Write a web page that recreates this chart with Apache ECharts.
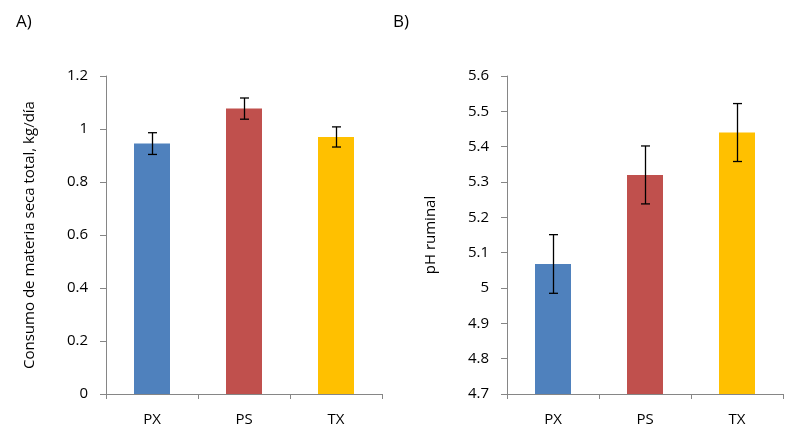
<!DOCTYPE html>
<html><head><meta charset="utf-8">
<script src="https://cdn.jsdelivr.net/npm/echarts@6/dist/echarts.min.js"></script>
<style>html,body{margin:0;padding:0;background:#fff}#c{width:800px;height:433px}</style>
</head><body><div id="c"></div>
<script>
const categories = ['PX', 'PS', 'TX'];
const colors = ['#4F81BD', '#C0504D', '#FFC000'];
const intakeValues = [0.945, 1.077, 0.970];
const intakeErrors = [0.041, 0.040, 0.038];
const phValues = [5.068, 5.320, 5.440];
const phErrors = [0.083, 0.082, 0.082];
const intakeTicks = { min: 0, max: 1.2, interval: 0.2 };
const phTicks = { min: 4.7, max: 5.6, interval: 0.1 };

const FONT = '"Open Sans", sans-serif';
const axisGray = '#868686';

function xAx(gi) {
  return {
    type: 'category', gridIndex: gi, data: categories,
    axisLine: { lineStyle: { color: axisGray, width: 1 } },
    axisTick: { show: true, length: 5, lineStyle: { color: axisGray } },
    axisLabel: { color: '#000', fontFamily: FONT, fontSize: 15, margin: 18 }
  };
}
function yAx(gi, t, name, gap) {
  return {
    type: 'value', gridIndex: gi, min: t.min, max: t.max, interval: t.interval,
    name: name, nameLocation: 'middle', nameGap: gap,
    nameTextStyle: { color: '#000', fontFamily: FONT, fontSize: 15 },
    axisLine: { show: true, lineStyle: { color: axisGray } },
    axisTick: { show: true, length: 6, lineStyle: { color: axisGray } },
    splitLine: { show: false },
    axisLabel: { color: '#000', fontFamily: FONT, fontSize: 15, margin: 18,
      formatter: v => String(Math.round(v * 10) / 10) }
  };
}
function barSeries(gi, vals) {
  return {
    type: 'bar', xAxisIndex: gi, yAxisIndex: gi, barWidth: 36,
    data: vals.map((v, i) => ({ value: v, itemStyle: { color: colors[i] } })),
    silent: true
  };
}
function errSeries(gi, vals, errs) {
  return {
    type: 'custom', xAxisIndex: gi, yAxisIndex: gi, silent: true, z: 10,
    data: vals.map((v, i) => [i, v - errs[i], v + errs[i]]),
    renderItem: function (params, api) {
      const lo = api.coord([api.value(0), api.value(1)]);
      const hi = api.coord([api.value(0), api.value(2)]);
      const x = Math.round(lo[0]) + 0.5, hw = 4.5;
      const st = { stroke: '#000', lineWidth: 1.3 };
      return { type: 'group', children: [
        { type: 'line', shape: { x1: x, y1: lo[1], x2: x, y2: hi[1] }, style: st },
        { type: 'line', shape: { x1: x - hw, y1: lo[1], x2: x + hw, y2: lo[1] }, style: st },
        { type: 'line', shape: { x1: x - hw, y1: hi[1], x2: x + hw, y2: hi[1] }, style: st }
      ]};
    }
  };
}

const chart = echarts.init(document.getElementById('c'), null, { renderer: 'canvas' });
chart.setOption({
  animation: false,
  backgroundColor: '#fff',
  title: [
    { text: 'A)', left: 11, top: 9, textStyle: { fontFamily: FONT, fontSize: 17, fontWeight: 'normal', color: '#000' } },
    { text: 'B)', left: 388, top: 9, textStyle: { fontFamily: FONT, fontSize: 17, fontWeight: 'normal', color: '#000' } }
  ],
  grid: [
    { left: 106, top: 76, width: 276, bottom: 39 },
    { left: 507, top: 76, width: 276, bottom: 39 }
  ],
  xAxis: [xAx(0), xAx(1)],
  yAxis: [
    yAx(0, intakeTicks, 'Consumo de materia seca total, kg/día', 69),
    yAx(1, phTicks, 'pH ruminal', 69)
  ],
  series: [
    barSeries(0, intakeValues), errSeries(0, intakeValues, intakeErrors),
    barSeries(1, phValues), errSeries(1, phValues, phErrors)
  ]
});
</script></body></html>
